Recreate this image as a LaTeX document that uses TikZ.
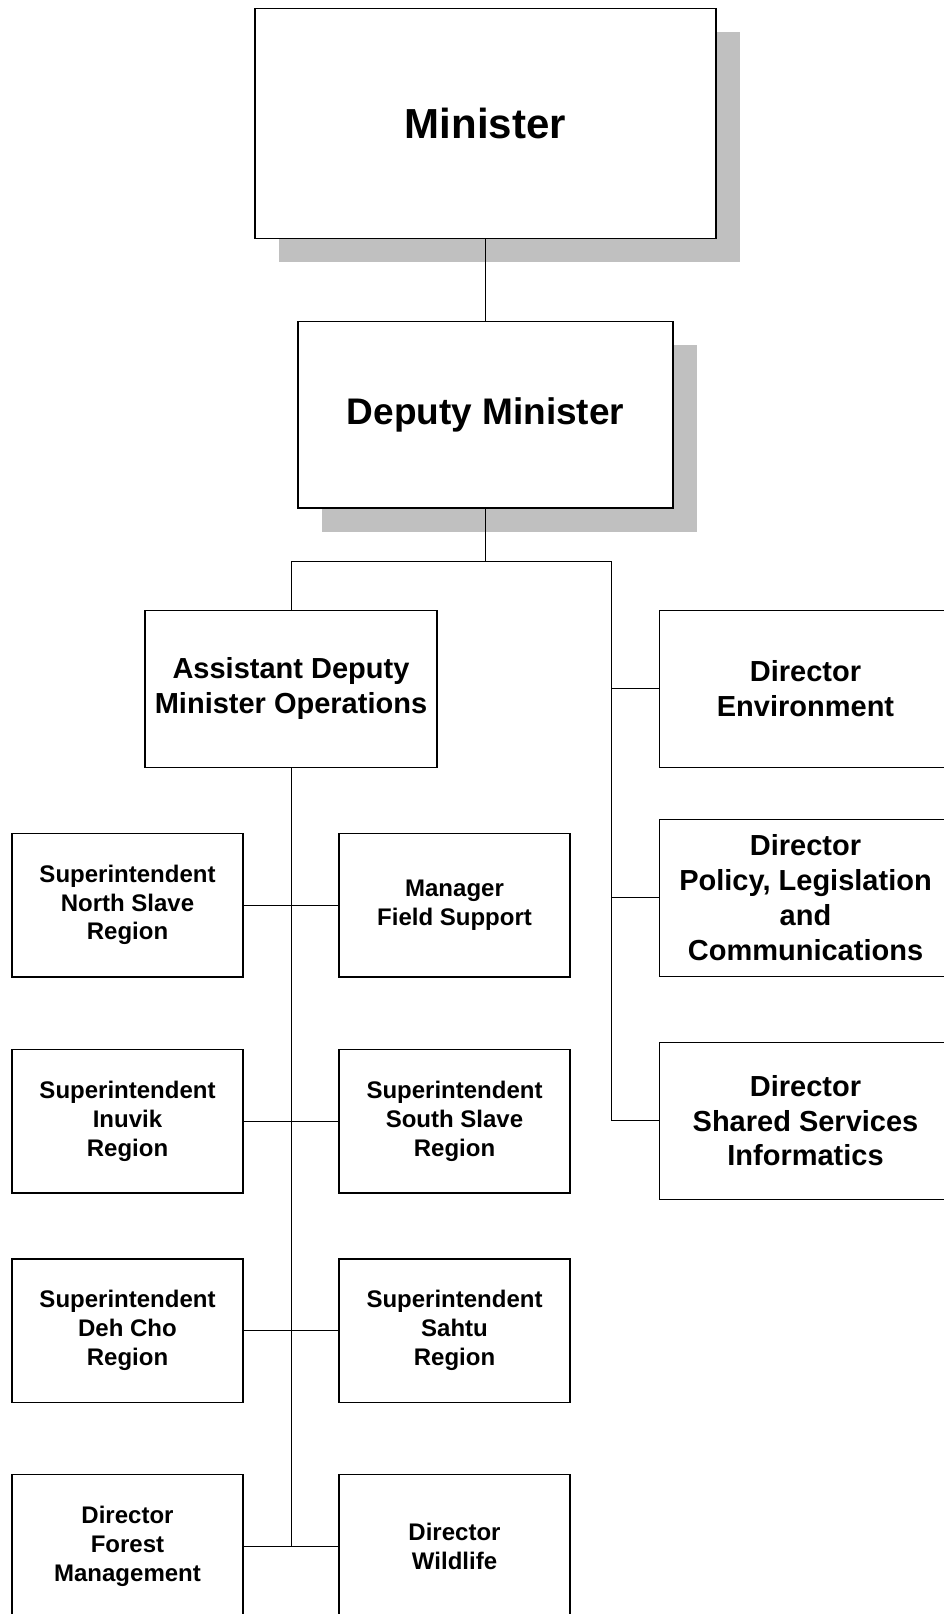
\documentclass[tikz,border=0pt]{standalone}
\usepackage{fontspec}
\setmainfont{Liberation Sans}
\usepackage{xcolor}
\usepackage{tikz}
\usetikzlibrary{positioning,shadows}
\definecolor{shadowgray}{HTML}{C0C0C0}

\begin{document}
\begin{tikzpicture}[every node/.style={align=center,inner sep=0pt,outer sep=0pt},
  orgbox/.style={draw,line width=1.5pt,fill=white},
  topbox/.style={orgbox,general shadow={fill=shadowgray,shadow xshift=24pt,shadow yshift=-24pt}},
  unitbox/.style={orgbox,minimum width=292pt,minimum height=157pt,font=\fontsize{29}{34.8}\selectfont\bfseries},
  staffbox/.style={orgbox,minimum width=231pt,minimum height=143.5pt,font=\fontsize{24}{28.8}\selectfont\bfseries},
  link/.style={line width=1pt}]
  \useasboundingbox (0,0) rectangle (944pt,-1614pt);
  \node (min) [topbox,minimum width=461pt,minimum height=230pt,font=\fontsize{42}{50}\selectfont\bfseries] at (485.5pt,-123.3pt) {Minister};
  \node (dm) [topbox,minimum width=375pt,minimum height=186.5pt,font=\fontsize{37}{44}\selectfont\bfseries,below=83pt of min] {Deputy Minister};
  \coordinate [below=53.5pt of dm.south] (br);
  \node (admo) [unitbox,below=102.5pt of dm,xshift=-194.5pt] {Assistant Deputy\\Minister Operations};
  \node (env) [unitbox,right=222.5pt of admo] {Director\\Environment};
  \node (pol) [unitbox,below=52pt of env] {Director\\Policy, Legislation\\and\\Communications};
  \node (shr) [unitbox,below=66pt of pol] {Director\\Shared Services\\Informatics};
  \coordinate [left=47.7pt of env.west] (e1);
  \coordinate [left=47.7pt of pol.west] (p1);
  \coordinate [left=47.7pt of shr.west] (s1);
  % spine joints
  \coordinate [below=137.7pt of admo.south] (j1);
  \coordinate [below=216.3pt of j1] (j2);
  \coordinate [below=209.2pt of j2] (j3);
  \coordinate [below=215.6pt of j3] (j4);
  \node (nsl) [staffbox,left=48pt of j1] {Superintendent\\North Slave\\Region};
  \node (mfs) [staffbox,right=48pt of j1] {Manager\\Field Support};
  \node (inr) [staffbox,left=48pt of j2] {Superintendent\\Inuvik\\Region};
  \node (ssr) [staffbox,right=48pt of j2] {Superintendent\\South Slave\\Region};
  \node (dcr) [staffbox,left=48pt of j3] {Superintendent\\Deh Cho\\Region};
  \node (sar) [staffbox,right=48pt of j3] {Superintendent\\Sahtu\\Region};
  \node (dfm) [staffbox,left=48pt of j4] {Director\\Forest\\Management};
  \node (dwl) [staffbox,right=48pt of j4] {Director\\Wildlife};
  \draw[link] (min) -- (dm);
  \draw[link] (dm) -- (br);
  \draw[link] (admo) |- (br) -| (s1) -- (shr.west);
  \draw[link] (e1) -- (env); \draw[link] (p1) -- (pol);
  \draw[link] (admo) -- (j4);
  \draw[link] (nsl) -- (mfs); \draw[link] (inr) -- (ssr);
  \draw[link] (dcr) -- (sar); \draw[link] (dfm) -- (dwl);
\end{tikzpicture}
\end{document}
